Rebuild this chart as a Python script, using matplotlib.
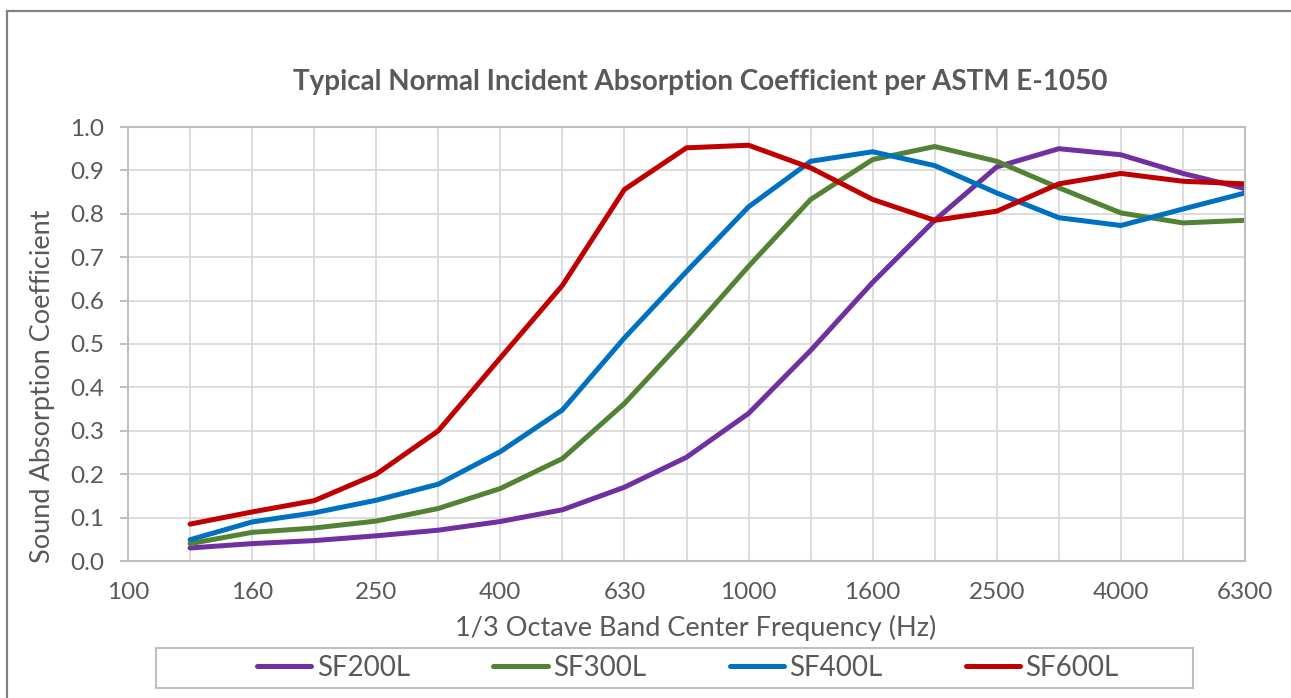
import matplotlib.pyplot as plt
from matplotlib.lines import Line2D
from matplotlib.patches import Rectangle

plt.rcParams['font.family'] = ['Lato', 'DejaVu Sans']

freqs = ['100', '125', '160', '200', '250', '315', '400', '500', '630', '800',
         '1000', '1250', '1600', '2000', '2500', '3150', '4000', '5000', '6300']

# values start at 125 Hz
sf200l = [0.03, 0.04, 0.047, 0.058, 0.071, 0.091, 0.118, 0.17, 0.239, 0.34,
          0.485, 0.642, 0.785, 0.908, 0.95, 0.936, 0.893, 0.858]
sf300l = [0.04, 0.066, 0.076, 0.092, 0.121, 0.167, 0.236, 0.363, 0.517, 0.679,
          0.833, 0.925, 0.955, 0.921, 0.86, 0.802, 0.779, 0.785]
sf400l = [0.049, 0.09, 0.111, 0.14, 0.177, 0.252, 0.348, 0.514, 0.667, 0.816,
          0.921, 0.943, 0.911, 0.848, 0.791, 0.773, 0.811, 0.848]
sf600l = [0.085, 0.113, 0.139, 0.2, 0.30, 0.468, 0.635, 0.856, 0.952, 0.958,
          0.906, 0.833, 0.785, 0.806, 0.869, 0.893, 0.875, 0.869]

series = [('SF200L', sf200l, '#7030A0'), ('SF300L', sf300l, '#548235'),
          ('SF400L', sf400l, '#0070C0'), ('SF600L', sf600l, '#C00000')]

text_color = '#595959'
W, H = 1291, 698

fig = plt.figure(figsize=(W / 100, H / 100), dpi=100)
ax = fig.add_axes([128 / W, 1 - 561 / H, (1245 - 128) / W, (561 - 127) / H])

xs = list(range(1, len(freqs)))
for name, vals, color in series:
    ax.plot(xs, vals, color=color, lw=3.6, label=name, solid_capstyle='round',
            solid_joinstyle='miter')

ax.set_xlim(0, len(freqs) - 1)
ax.set_ylim(0, 1.0)
ax.set_xticks(range(len(freqs)))
ax.set_xticklabels([f if i % 2 == 0 else '' for i, f in enumerate(freqs)])
ax.set_yticks([i / 10 for i in range(11)])
ax.set_yticklabels([f'{i / 10:.1f}' for i in range(11)])
ax.tick_params(axis='x', length=0, labelsize=17.5, colors=text_color, pad=15)
ax.tick_params(axis='y', length=6, width=1.5, color='#bfbfbf', labelsize=17.5,
               labelcolor=text_color, pad=11)
ax.grid(True, color='#d9d9d9', lw=1.3)
ax.set_axisbelow(True)
for s in ax.spines.values():
    s.set_color('#bfbfbf')
    s.set_linewidth(1.5)

fig.text(696 / W, 1 - 628 / H, '1/3 Octave Band Center Frequency (Hz)', ha='center', va='center',
         fontsize=19.5, color=text_color)
fig.text(43 / W, 1 - 386 / H, 'Sound Absorption Coefficient', ha='center', va='center',
         rotation=90, fontsize=19.5, color=text_color)
fig.text(700 / W, 1 - 82 / H, 'Typical Normal Incident Absorption Coefficient per ASTM E-1050',
         ha='center', va='center', fontsize=20, fontweight='bold', color=text_color)

leg = fig.legend(loc='center', bbox_to_anchor=(688 / W, 1 - 668 / H), ncol=4,
                 frameon=False, fontsize=20, handlelength=1.95,
                 handletextpad=0.2, columnspacing=3.0)
for t in leg.get_texts():
    t.set_color(text_color)
fig.add_artist(Rectangle((156 / W, 1 - 688 / H), (1193 - 156) / W, 40 / H,
                         transform=fig.transFigure, fill=False, edgecolor='#bfbfbf', lw=1.5))

# outer chart border (left and top only)
border = dict(color='#808080', lw=1.6, transform=fig.transFigure)
fig.add_artist(Line2D([7 / W, 7 / W], [0, 1 - 11 / H], **border))
fig.add_artist(Line2D([7 / W, 1], [1 - 11 / H, 1 - 11 / H], **border))

fig.savefig('out.png', dpi=100)
